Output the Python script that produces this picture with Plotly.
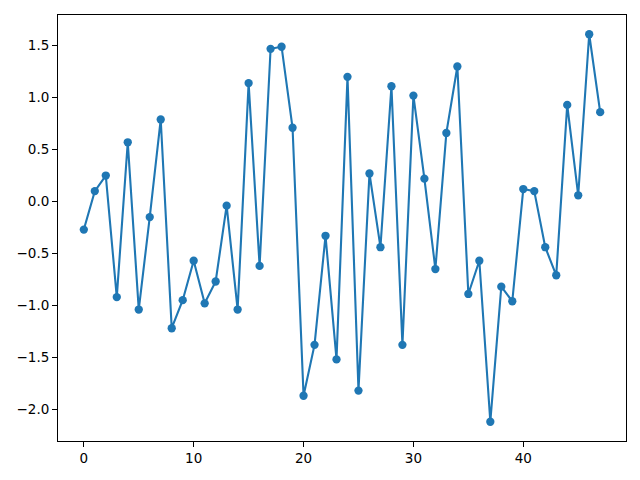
import plotly.graph_objects as go

x_vals = list(range(48))
y_vals = [-0.27, 0.10, 0.25, -0.92, 0.57, -1.04, -0.15, 0.79, -1.22, -0.95,
          -0.57, -0.98, -0.77, -0.04, -1.04, 1.14, -0.62, 1.47, 1.49, 0.71,
          -1.87, -1.38, -0.33, -1.52, 1.20, -1.82, 0.27, -0.44, 1.11, -1.38,
          1.02, 0.22, -0.65, 0.66, 1.30, -0.89, -0.57, -2.12, -0.82, -0.96,
          0.12, 0.10, -0.44, -0.71, 0.93, 0.06, 1.61, 0.86]
x_ticks = [0, 10, 20, 30, 40]
y_ticks = [-2.0, -1.5, -1.0, -0.5, 0.0, 0.5, 1.0, 1.5]

fig = go.Figure(go.Scatter(
    x=x_vals, y=y_vals, mode="lines+markers",
    line=dict(color="#1f77b4", width=2.1),
    marker=dict(color="#1f77b4", size=8.3),
))

axis_common = dict(showgrid=False, zeroline=False, showline=True, mirror=True,
                   linecolor="black", linewidth=1.1, ticks="outside", ticklen=4.9,
                   tickwidth=1.1, tickcolor="black",
                   tickfont=dict(family="DejaVu Sans", size=13.5, color="black"))

fig.update_layout(
    width=640, height=480,
    margin=dict(l=58, r=14, t=15, b=39),
    paper_bgcolor="white", plot_bgcolor="white",
    showlegend=False,
    xaxis=dict(range=[-2.35, 49.35], tickvals=x_ticks,
               ticktext=[str(t) for t in x_ticks], **axis_common),
    yaxis=dict(range=[-2.3055, 1.7955], tickvals=y_ticks,
               ticktext=[f"{t:.1f}".replace("-", "\u2212") for t in y_ticks], **axis_common),
)

fig.write_html("out.html")
